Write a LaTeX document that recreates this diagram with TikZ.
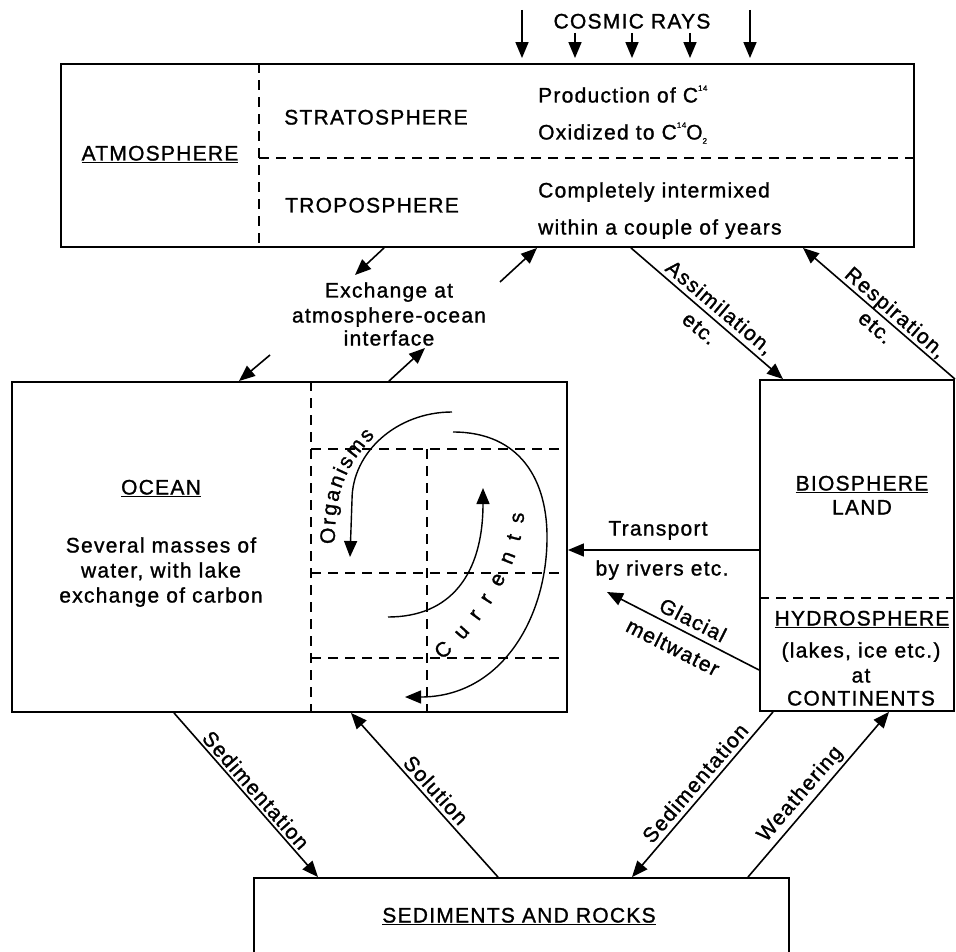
\documentclass[tikz,border=0pt]{standalone}
\usepackage{fontspec}
\setmainfont{Liberation Sans}[LetterSpace=6, FakeBold=1.2]
\usetikzlibrary{arrows.meta,decorations.text}
\newcommand{\upnum}[1]{\raisebox{0.55em}{\fontsize{8}{8}\selectfont #1}}
\newcommand{\downnum}[1]{\raisebox{-0.2em}{\fontsize{8}{8}\selectfont #1}}

\begin{document}
\begin{tikzpicture}[x=1pt, y=-1pt,
              box/.style={draw, line width=1.9pt, inner sep=0pt},
              lbl/.style={font=\fontsize{21}{25}\selectfont, inner sep=0pt, text height=15pt, text depth=0pt},
              flow/.style={line width=1.6pt, -{Triangle[length=16pt, width=13pt]}},
              ray/.style={flow, shorten >=5pt},
              split/.style={line width=1.4pt, dash pattern=on 10pt off 7pt},
              curl/.style={line width=1.4pt, -{Triangle[length=16pt, width=13pt]}},
              spread/.style={decorate, decoration={text along path, text align=fit to path, text={|\fontsize{21}{25}\selectfont|#1}}}]
              \useasboundingbox (0,0) rectangle (956,952);

              \node [box, minimum width=853, minimum height=183] (atmosphere) at (487.5,155.5) {};
              \node [box, minimum width=555, minimum height=330] (ocean) at (289.5,547) {};
              \node [box, minimum width=194, minimum height=331] (land) at (857,545.5) {};
              \node [box, minimum width=535, minimum height=97] (sediments) at (521.5,926.5) {};

              \node [lbl] (cosmic) at (632,21) {COSMIC RAYS};
              \node [lbl] (atmlabel) at (160,153) {\underline{ATMOSPHERE}};
              \node [lbl] (strato) at (376,117) {STRATOSPHERE};
              \node [lbl] (tropo) at (372,205) {TROPOSPHERE};
              \node [lbl, anchor=west] (prod) at (538,95) {Production of C\upnum{14}};
              \node [lbl, anchor=west] (oxid) at (538,132) {Oxidized to C\upnum{14}O\downnum{2}};
              \node [lbl, anchor=west] (mixed) at (538,190) {Completely intermixed};
              \node [lbl, anchor=west] (years) at (538,227) {within a couple of years};

              \node [lbl] (exchange1) at (389,290) {Exchange at};
              \node [lbl] (exchange2) at (389,315) {atmosphere-ocean};
              \node [lbl] (exchange3) at (389,338) {interface};

              \node [lbl] (oceanlabel) at (161,487) {\underline{OCEAN}};
              \node [lbl] (masses1) at (161,545) {Several masses of};
              \node [lbl] (masses2) at (161,570) {water, with lake};
              \node [lbl] (masses3) at (161,595) {exchange of carbon};

              \node [lbl] (bio) at (862,483) {\underline{BIOSPHERE}};
              \node [lbl] (landlabel) at (862,507) {LAND};
              \node [lbl] (hydro) at (862,618) {\underline{HYDROSPHERE}};
              \node [lbl] (hydro1) at (861,650) {(lakes, ice etc.)};
              \node [lbl] (hydro2) at (861,675) {at};
              \node [lbl] (hydro3) at (861,698) {CONTINENTS};

              \node [lbl] (sedlabel) at (519,915) {\underline{SEDIMENTS AND ROCKS}};

              \node [lbl] (transport1) at (658,528) {Transport};
              \node [lbl] (transport2) at (662,568) {by rivers etc.};
              \node [lbl, rotate=-27] (glacial1) at (693,620) {Glacial};
              \node [lbl, rotate=-27] (glacial2) at (673,647) {meltwater};
              \node [lbl, rotate=-40] (assim1) at (720,307) {Assimilation,};
              \node [lbl, rotate=-40] (assim2) at (700,328) {etc.};
              \node [lbl, rotate=-41] (resp1) at (896,312) {Respiration,};
              \node [lbl, rotate=-41] (resp2) at (876,327) {etc.};
              \node [lbl, rotate=-48.7] (sedleft) at (256,790) {Sedimentation};
              \node [lbl, rotate=-47.8] (solution) at (436,790) {Solution};
              \node [lbl, rotate=49.3] (sedright) at (695,783) {Sedimentation};
              \node [lbl, rotate=49.3] (weather) at (799,793) {Weathering};

              \foreach \x/\y [count=\i] in {522/10, 575/33, 632/33, 690/33, 750/10}
                {\coordinate (ray\i) at (\x,\y);
                 \draw [ray] (ray\i) -- (atmosphere.north -| ray\i);}

              \draw [split] (atmosphere.north -| 259,0) -- (atmosphere.south -| 259,0);
              \draw [split] (259,158) -- (atmosphere.east |- 0,158);
              \draw [split] (ocean.north -| 311,0) -- (ocean.south -| 311,0);
              \draw [split] (311,449) -- (ocean.east |- 0,449);
              \draw [split] (311,573) -- (ocean.east |- 0,573);
              \draw [split] (311,658) -- (ocean.east |- 0,658);
              \draw [split] (427,449) -- (ocean.south -| 427,0);
              \draw [split] (land.west |- 0,598) -- (land.east |- 0,598);

              \coordinate (exch1) at (355,275);
              \coordinate (exch2) at (500,282);
              \coordinate (exch3) at (270,355);
              \coordinate (exch4) at (425,348);
              \coordinate (melt) at (607,592);

              \draw [flow] (atmosphere.south -| 384,0) -- (exch1);
              \draw [flow] (exch2) -- (atmosphere.south -| 537,0);
              \draw [flow] (exch3) -- (ocean.north -| 239,0);
              \draw [flow] (ocean.north -| 389,0) -- (exch4);
              \draw [flow] (atmosphere.south -| 631,0) -- (land.north -| 783,0);
              \draw [flow] (land.north east) -- (atmosphere.south -| 803,0);
              \draw [flow] (land.west |- 0,550) -- (ocean.east |- 0,550);
              \draw [flow] (land.west |- 0,670) -- (melt);
              \draw [flow] (ocean.south -| 174,0) -- (sediments.north -| 318,0);
              \draw [flow] (sediments.north -| 498,0) -- (ocean.south -| 351,0);
              \draw [flow] (land.south -| 773,0) -- (sediments.north -| 632,0);
              \draw [flow] (sediments.north -| 748,0) -- (land.south -| 889,0);

              \draw [curl] (452,412) .. controls (397,412) and (352,452) .. (352,500) -- (350,557);
              \draw [curl] (388,617) .. controls (450,617) and (483,575) .. (483,488);
              \draw [curl] (453,432) .. controls (520,432) and (548,480) .. (547,540)
                           .. controls (546,620) and (500,697) .. (405,697);
              \path [spread=Organisms] (335,544) .. controls (334,495) and (345,465) .. (375,436);
              \path [spread=Currents] (442,660) .. controls (482,628) and (524,560) .. (524,513);

\end{tikzpicture}
\end{document}
